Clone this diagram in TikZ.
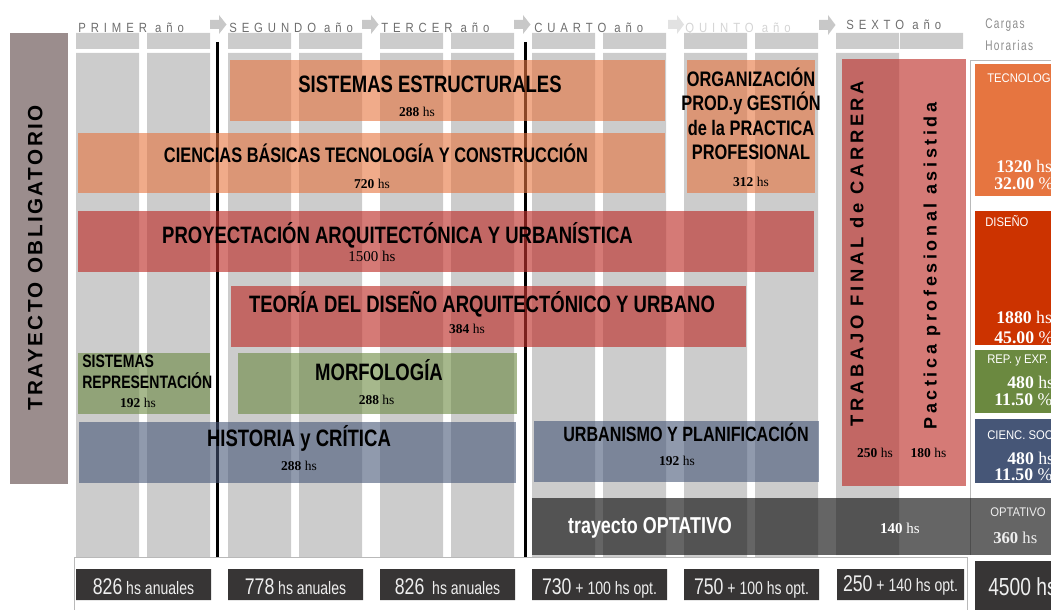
\documentclass[tikz,border=0pt]{standalone}
\usepackage{fontspec}
\setmainfont{Liberation Serif}
\newfontfamily\narrowsans[FakeStretch=0.78]{Liberation Sans}
\newfontfamily\labelsans[FakeStretch=0.9]{Liberation Sans}
\newfontfamily\yearsans[FakeStretch=0.85,LetterSpace=37]{Liberation Sans}
\newfontfamily\vertsans[LetterSpace=20]{Liberation Sans}
\newfontfamily\vertwide[LetterSpace=12]{Liberation Sans}
\newfontfamily\cargassans[FakeStretch=0.72,LetterSpace=10]{Liberation Sans}

\definecolor{colgrey}{RGB}{204,204,204}
\definecolor{arrgrey}{RGB}{200,200,200}
\definecolor{arrlight}{RGB}{226,226,226}
\definecolor{tecno}{RGB}{230,117,64}
\definecolor{disen}{RGB}{204,51,0}
\definecolor{proy}{RGB}{190,50,45}
\definecolor{repexp}{RGB}{107,137,64}
\definecolor{ciensoc}{RGB}{70,86,119}
\definecolor{obligat}{RGB}{155,141,141}
\definecolor{boxdark}{RGB}{55,53,53}
\definecolor{yeartxt}{RGB}{110,110,110}
\definecolor{quintotxt}{RGB}{212,212,212}
\definecolor{cargastxt}{RGB}{140,140,140}
\definecolor{framegrey}{RGB}{185,185,185}
\definecolor{sumtxt}{RGB}{238,238,238}

\newcommand\bartitle{\narrowsans\bfseries\fontsize{17.8}{20}\selectfont}
\newcommand\hsfont{\fontsize{10.1}{12}\selectfont}
\newcommand\yearfont{\yearsans\fontsize{10}{12}\selectfont}
\newcommand\cargasfont{\cargassans\fontsize{10.5}{12}\selectfont}
\newcommand\boxlabel{\labelsans\fontsize{9.4}{11}\selectfont}
\newcommand\sumnum[2]{{\fontsize{17}{19}\selectfont #1}{\fontsize{13.5}{15}\selectfont\ #2}}

\begin{document}
\begin{tikzpicture}[x=0.75pt,y=0.75pt,yscale=-1,xscale=1,
  tecbar/.style={fill=tecno,fill opacity=0.61},
  proybar/.style={fill=proy,fill opacity=0.65},
  repbar/.style={fill=repexp,fill opacity=0.6},
  socbar/.style={fill=ciensoc,fill opacity=0.6},
  optbar/.style={fill=black!90,fill opacity=0.67},
  bartext/.style={inner sep=0.75pt,anchor=base,font=\bartitle},
  hstext/.style={inner sep=0.75pt,anchor=base,font=\hsfont},
  yeartext/.style={inner sep=0.75pt,anchor=base west,font=\yearfont,text=yeartxt},
  cargatext/.style={inner sep=0.75pt,anchor=base west,text=white},
  sumtext/.style={inner sep=0.75pt,anchor=base,text=sumtxt,font=\narrowsans}
]
\useasboundingbox (0,0) rectangle (1051,610);
\clip (0,0) rectangle (1051,610);

%Shape: Rectangle (header bands)
\fill[colgrey] (76,33) rectangle (139,49) (147,33) rectangle (210,49) (228,33) rectangle (291,49) (299,33) rectangle (362,49) (380,33) rectangle (443,49) (451,33) rectangle (514,49) (532,33) rectangle (595,49) (603,33) rectangle (666,49) (684,33) rectangle (747,49) (755,33) rectangle (818,49) (836,33) rectangle (899,49) (900,33) rectangle (963,49);
%Shape: Rectangle (semester columns)
\fill[colgrey] (76,53) rectangle (139,557) (147,53) rectangle (210,557) (228,53) rectangle (291,557) (299,53) rectangle (362,557) (380,53) rectangle (443,557) (451,53) rectangle (514,557) (532,53) rectangle (595,557) (603,53) rectangle (666,557) (684,53) rectangle (747,557) (755,53) rectangle (818,557) (836,53) rectangle (899,555);

%Shape: Right Arrow
\fill[arrgrey] (210,20) -- (219,20) -- (219,15) -- (226.5,24.5) -- (219,34) -- (219,29) -- (210,29) -- cycle ;
%Shape: Right Arrow
\fill[arrgrey] (362,20) -- (371,20) -- (371,15) -- (378.5,24.5) -- (371,34) -- (371,29) -- (362,29) -- cycle ;
%Shape: Right Arrow
\fill[arrgrey] (514,20) -- (523,20) -- (523,15) -- (530.5,24.5) -- (523,34) -- (523,29) -- (514,29) -- cycle ;
%Shape: Right Arrow
\fill[arrlight] (668,20) -- (677,20) -- (677,15) -- (684,24.5) -- (677,34) -- (677,29) -- (668,29) -- cycle ;
%Shape: Right Arrow
\fill[arrgrey] (819,20) -- (828,20) -- (828,15) -- (835.5,25) -- (828,35) -- (828,30) -- (819,30) -- cycle ;

%Straight Lines
\draw[line width=2.25pt] (217,42) -- (217,557) ;
%Straight Lines
\draw[line width=2.25pt] (525,42) -- (525,557) ;

%Shape: Rectangle
\fill[obligat] (10,33) rectangle (68,484) ;

%Shape: Rectangle (bars)
\fill[tecbar] (230,60) rectangle (665,121) ;
\fill[tecbar] (687,60) rectangle (815,193) ;
\fill[tecbar] (78,133) rectangle (665,193) ;
\fill[proybar] (78,211) rectangle (814,272) ;
\fill[proybar] (231,286) rectangle (746,347) ;
\fill[repbar] (78,353) rectangle (210,414) ;
\fill[repbar] (238,353) rectangle (517,414) ;
\fill[socbar] (79,422) rectangle (516,483) ;
\fill[socbar] (534,421) rectangle (819,482) ;
\fill[proybar] (842,59) rectangle (900,486) ;
\fill[proybar] (900,59) rectangle (966,486) ;

%Straight Lines (cargas frame)
\draw[framegrey] (1060,60) -- (970,60) -- (970,555) ;
%Straight Lines (bottom frame)
\draw[framegrey] (74,615) -- (74,557) -- (967,557) -- (967,615) ;

%Shape: Rectangle (optativo)
\fill[optbar] (532,498) rectangle (1060,555) ;

%Shape: Rectangle (cargas)
\fill[tecno] (975,64) rectangle (1060,196) ;
\fill[disen] (975,211) rectangle (1060,345) ;
\fill[repexp] (975,350) rectangle (1060,413) ;
\fill[ciensoc] (975,419) rectangle (1060,483) ;
\fill[boxdark] (975,561) rectangle (1060,615) ;

%Shape: Rectangle (annual totals)
\fill[boxdark] (76,569) rectangle (211,600) (228,569) rectangle (363,600) (380,569) rectangle (515,600) (532,569) rectangle (667,600) (684,569) rectangle (819,600) (837,569) rectangle (964,600) ;

% Text Node
\draw (77,32.5) node (yearA) [yeartext] {PRIMER año};
% Text Node
\draw (228,32.5) node (yearB) [yeartext] {SEGUNDO año};
% Text Node
\draw (380,32.5) node (yearC) [yeartext] {TERCER año};
% Text Node
\draw (533,32.5) node (yearD) [yeartext] {CUARTO año};
% Text Node
\draw (684,32.5) node (yearE) [yeartext,text=quintotxt] {QUINTO año};
% Text Node
\draw (845,29.8) node (yearF) [yeartext] {SEXTO año};
% Text Node
\draw (984,28.8) node (cargasA) [inner sep=0.75pt,anchor=base west,font=\cargasfont,text=cargastxt] {Cargas};
% Text Node
\draw (984,50.8) node (cargasB) [inner sep=0.75pt,anchor=base west,font=\cargasfont,text=cargastxt] {Horarias};

% Text Node
\draw (42.3,258) node (trayOblig) [inner sep=0.75pt,anchor=base,rotate=90,font=\vertwide\bfseries\fontsize{15.5}{17}\selectfont] {TRAYECTO OBLIGATORIO};

% Text Node
\draw (430,93) node (sisEst) [bartext] {SISTEMAS ESTRUCTURALES};
\draw (417,117) node (sisEstHs) [hstext] {\textbf{288} hs};
% Text Node
\draw (376,162.3) node (cienBas) [bartext,font=\narrowsans\bfseries\fontsize{15.75}{18}\selectfont] {CIENCIAS BÁSICAS TECNOLOGÍA Y CONSTRUCCIÓN};
\draw (372,189) node (cienBasHs) [hstext] {\textbf{720} hs};
% Text Node
\draw (397.5,243.4) node (proyArq) [bartext] {PROYECTACIÓN ARQUITECTÓNICA Y URBANÍSTICA};
\draw (372,261) node (proyArqHs) [hstext,font=\fontsize{11.25}{13}\selectfont] {1500 hs};
% Text Node
\draw (482,312.7) node (teoDis) [bartext] {TEORÍA DEL DISEÑO ARQUITECTÓNICO Y URBANO};
\draw (467,333) node (teoDisHs) [hstext] {\textbf{384} hs};
% Text Node
\draw (81,367) node (sisRepA) [bartext,anchor=base west,font=\narrowsans\bfseries\fontsize{13.5}{15}\selectfont] {SISTEMAS};
\draw (81,388.3) node (sisRepB) [bartext,anchor=base west,font=\narrowsans\bfseries\fontsize{13.5}{15}\selectfont] {REPRESENTACIÓN};
\draw (138,407.6) node (sisRepHs) [hstext] {\textbf{192} hs};
% Text Node
\draw (379,380) node (morfo) [bartext] {MORFOLOGÍA};
\draw (376.6,404) node (morfoHs) [hstext] {\textbf{288} hs};
% Text Node
\draw (299,446.5) node (histCrit) [bartext] {HISTORIA y CRÍTICA};
\draw (299,470) node (histCritHs) [hstext] {\textbf{288} hs};
% Text Node
\draw (686,441.7) node (urbPlan) [bartext,font=\narrowsans\bfseries\fontsize{15.5}{18}\selectfont] {URBANISMO Y PLANIFICACIÓN};
\draw (677,465) node (urbPlanHs) [hstext] {\textbf{192} hs};
% Text Node
\draw (751,86.4) node (orgA) [bartext,font=\narrowsans\bfseries\fontsize{15.75}{18}\selectfont] {ORGANIZACIÓN};
\draw (751,111) node (orgB) [bartext,font=\narrowsans\bfseries\fontsize{15.75}{18}\selectfont] {PROD.y GESTIÓN};
\draw (751,135.5) node (orgC) [bartext,font=\narrowsans\bfseries\fontsize{15.75}{18}\selectfont] {de la PRACTICA};
\draw (751,160) node (orgD) [bartext,font=\narrowsans\bfseries\fontsize{15.75}{18}\selectfont] {PROFESIONAL};
\draw (751,186) node (orgHs) [hstext] {\textbf{312} hs};
% Text Node
\draw (863.3,253.5) node (trabFin) [inner sep=0.75pt,anchor=base,rotate=90,font=\vertsans\bfseries\fontsize{13.8}{15}\selectfont] {TRABAJO FINAL de CARRERA};
\draw (875,457) node (trabFinHs) [hstext] {\textbf{250} hs};
% Text Node
\draw (936.7,266) node (pracPro) [inner sep=0.75pt,anchor=base,rotate=90,font=\vertsans\bfseries\fontsize{13.5}{15}\selectfont] {Pactica profesional asistida};
\draw (928.5,457) node (pracProHs) [hstext] {\textbf{180} hs};
% Text Node
\draw (650,533) node (trayOpt) [bartext,text=white,font=\narrowsans\bfseries\fontsize{17.25}{19}\selectfont] {trayecto OPTATIVO};
\draw (900,533) node (trayOptHs) [hstext,text=white,font=\fontsize{11.25}{13}\selectfont] {\textbf{140} hs};

% Text Node
\draw (986,83) node (tecLbl) [cargatext,font=\boxlabel] {TECNOLOGÍA};
\draw (995,173) node (tecHs) [cargatext,font=\fontsize{13.3}{15}\selectfont] {\textbf{1320} hs};
\draw (993,190) node (tecPc) [cargatext,font=\fontsize{13.3}{15}\selectfont] {\textbf{32.00} \%};
% Text Node
\draw (984,226.7) node (disLbl) [cargatext,font=\boxlabel] {DISEÑO};
\draw (995,323) node (disHs) [cargatext,font=\fontsize{13.3}{15}\selectfont] {\textbf{1880} hs};
\draw (993,343) node (disPc) [cargatext,font=\fontsize{13.3}{15}\selectfont] {\textbf{45.00} \%};
% Text Node
\draw (986,363.3) node (repLbl) [cargatext,font=\boxlabel] {REP. y EXP.};
\draw (1006,388) node (repHs) [cargatext,font=\fontsize{13.3}{15}\selectfont] {\textbf{480} hs};
\draw (993,405) node (repPc) [cargatext,font=\fontsize{13.3}{15}\selectfont] {\textbf{11.50} \%};
% Text Node
\draw (986,439) node (socLbl) [cargatext,font=\boxlabel] {CIENC. SOC};
\draw (1006,464) node (socHs) [cargatext,font=\fontsize{13.3}{15}\selectfont] {\textbf{480} hs};
\draw (993,480) node (socPc) [cargatext,font=\fontsize{13.3}{15}\selectfont] {\textbf{11.50} \%};
% Text Node
\draw (989,516.7) node (optLbl) [cargatext,text=sumtxt,font=\boxlabel] {OPTATIVO};
\draw (992,543) node (optHs) [cargatext,text=sumtxt,font=\fontsize{12.5}{14}\selectfont] {\textbf{360} hs};
% Text Node
\draw (987,595) node (totHs) [cargatext,text=sumtxt,font=\narrowsans\fontsize{18.5}{20}\selectfont] {4500 hs};

% Text Node
\draw (143.5,594) node (sumA) [sumtext] {\sumnum{826}{hs anuales}};
\draw (295.5,594) node (sumB) [sumtext] {\sumnum{778}{hs anuales}};
\draw (447.5,594) node (sumC) [sumtext] {\sumnum{826}{\ hs anuales}};
\draw (599.5,594) node (sumD) [sumtext] {\sumnum{730}{+ 100 hs opt.}};
\draw (751.5,594) node (sumE) [sumtext] {\sumnum{750}{+ 100 hs opt.}};
\draw (900.5,591) node (sumF) [sumtext] {\sumnum{250}{+ 140 hs opt.}};

\end{tikzpicture}
\end{document}
